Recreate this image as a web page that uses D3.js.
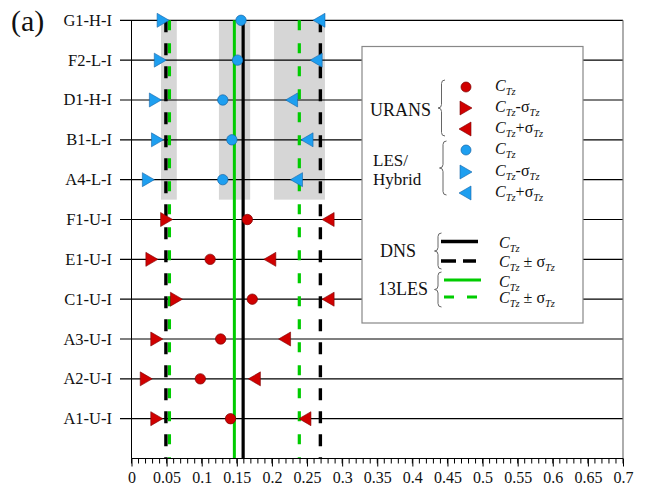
<!DOCTYPE html>
<html>
<head>
<meta charset="utf-8">
<script src="https://cdn.jsdelivr.net/npm/d3@7"></script>
<style>
  html, body { margin: 0; padding: 0; background: #fff; }
  svg text { font-family: "Liberation Serif", "Times New Roman", serif; fill: #111; }
</style>
</head>
<body>
<svg id="chart" width="647" height="496"></svg>
<script>
// Cases, top to bottom
const cases = ["G1-H-I", "F2-L-I", "D1-H-I", "B1-L-I", "A4-L-I",
               "F1-U-I", "E1-U-I", "C1-U-I", "A3-U-I", "A2-U-I", "A1-U-I"];
// Model family of each case: LES/Hybrid or URANS
const family = ["LES", "LES", "LES", "LES", "LES",
                "URANS", "URANS", "URANS", "URANS", "URANS", "URANS"];
// Mean C_Tz and the C_Tz - sigma / C_Tz + sigma bounds for each case
const ctzMean  = [0.156, 0.151, 0.130, 0.143, 0.130, 0.165, 0.112, 0.172, 0.127, 0.098, 0.141];
const ctzLower = [0.045, 0.041, 0.034, 0.037, 0.024, 0.050, 0.029, 0.064, 0.036, 0.021, 0.036];
const ctzUpper = [0.267, 0.263, 0.228, 0.250, 0.235, 0.280, 0.197, 0.280, 0.218, 0.175, 0.247];
// Reference statistics
const dnsMean = 0.159, dnsSigma = 0.110;
const les13Mean = 0.1465, les13Sigma = 0.0925;
// Shaded ranges in the LES/Hybrid block
const bandLo = [0.042, 0.1245, 0.203];
const bandHi = [0.0645, 0.169, 0.2755];
const bandRows = ["G1-H-I", "A4-L-I"];
// Axis ticks
const majorTicks = [0, 0.05, 0.1, 0.15, 0.2, 0.25, 0.3, 0.35, 0.4, 0.45, 0.5, 0.55, 0.6, 0.65, 0.7];
const minorTicks = d3.range(0, 71).map(i => i / 100);

const RED = "#d00000", RED_EDGE = "#7a0000";
const BLUE = "#1e9ff0", BLUE_EDGE = "#1565a8";
const GREEN = "#00cc00";

const svg = d3.select("#chart");
const x = d3.scaleLinear().domain([0, 0.7]).range([131.5, 623]);
const y = d3.scalePoint().domain(cases).range([20.3, 418.7]);
const yTop = y(cases[0]);
const yBottom = 458.5;

// "(a)" panel tag
svg.append("text").attr("x", 11).attr("y", 31).attr("font-size", 30).text("(a)");

// Shaded bands
const bandTop = y(bandRows[0]), bandBot = y(bandRows[1]) + 20;
svg.append("g").selectAll("rect").data(d3.range(bandLo.length)).join("rect")
  .attr("x", i => x(bandLo[i])).attr("width", i => x(bandHi[i]) - x(bandLo[i]))
  .attr("y", bandTop).attr("height", bandBot - bandTop)
  .attr("fill", "#d6d6d6");

// Row lines
svg.append("g").selectAll("line").data(cases).join("line")
  .attr("x1", 120).attr("x2", x(0.7))
  .attr("y1", d => y(d)).attr("y2", d => y(d))
  .attr("stroke", "#000").attr("stroke-width", 1.2);

// Frame: left axis line and grey right border
svg.append("line").attr("x1", x(0)).attr("x2", x(0)).attr("y1", yTop).attr("y2", yBottom)
  .attr("stroke", "#000").attr("stroke-width", 1);
svg.append("line").attr("x1", x(0.7)).attr("x2", x(0.7)).attr("y1", yTop).attr("y2", yBottom)
  .attr("stroke", "#777").attr("stroke-width", 1.2);

// Row labels
svg.append("g").selectAll("text").data(cases).join("text")
  .attr("x", 112).attr("y", d => y(d) + 5.5)
  .attr("text-anchor", "end").attr("font-size", 16.5).text(d => d);

// Reference lines: DNS and 13LES mean and mean +/- sigma
const refLines = [
  { v: les13Mean, color: GREEN, dash: null, w: 3 },
  { v: dnsMean, color: "#000", dash: null, w: 3.2 },
  { v: les13Mean - les13Sigma, color: GREEN, dash: "10,13", w: 3.2 },
  { v: les13Mean + les13Sigma, color: GREEN, dash: "10,13", w: 3.2 },
  { v: dnsMean - dnsSigma, color: "#000", dash: "12,11", w: 3.4 },
  { v: dnsMean + dnsSigma, color: "#000", dash: "12,11", w: 3.4 }
];
svg.append("g").selectAll("line").data(refLines).join("line")
  .attr("x1", d => x(d.v)).attr("x2", d => x(d.v))
  .attr("y1", yTop).attr("y2", yBottom)
  .attr("stroke", d => d.color).attr("stroke-width", d => d.w)
  .attr("stroke-dasharray", d => d.dash);

// Marker shapes
const triRight = "M-6,-7L6,0L-6,7Z";
const triLeft = "M6,-7L-6,0L6,7Z";
const fillOf = i => family[i] === "URANS" ? RED : BLUE;
const edgeOf = i => family[i] === "URANS" ? RED_EDGE : BLUE_EDGE;
const idx = d3.range(cases.length);

const marks = svg.append("g");
marks.selectAll("path.lo").data(idx).join("path").attr("class", "lo")
  .attr("d", triRight)
  .attr("transform", i => `translate(${x(ctzLower[i])},${y(cases[i])})`)
  .attr("fill", fillOf).attr("stroke", edgeOf).attr("stroke-width", 0.6);
marks.selectAll("path.hi").data(idx).join("path").attr("class", "hi")
  .attr("d", triLeft)
  .attr("transform", i => `translate(${x(ctzUpper[i])},${y(cases[i])})`)
  .attr("fill", fillOf).attr("stroke", edgeOf).attr("stroke-width", 0.6);
marks.selectAll("circle").data(idx).join("circle")
  .attr("cx", i => x(ctzMean[i])).attr("cy", i => y(cases[i])).attr("r", 5.2)
  .attr("fill", fillOf).attr("stroke", edgeOf).attr("stroke-width", 0.7);

// Bottom axis
const axisG = svg.append("g").attr("transform", `translate(0,${yBottom})`);
axisG.append("line").attr("x1", x(0)).attr("x2", x(0.7)).attr("stroke", "#000").attr("stroke-width", 1.2);
axisG.selectAll("line.minor").data(minorTicks).join("line").attr("class", "minor")
  .attr("x1", d => x(d)).attr("x2", d => x(d)).attr("y1", 0).attr("y2", 5)
  .attr("stroke", "#000").attr("stroke-width", 1);
const xAxis = d3.axisBottom(x).tickValues(majorTicks).tickSize(8).tickPadding(5)
  .tickFormat(d => d3.format("~g")(d));
const ax = axisG.append("g").call(xAxis);
ax.select(".domain").remove();
ax.selectAll(".tick line").attr("stroke", "#000").attr("stroke-width", 1);
ax.selectAll(".tick text").attr("font-size", 16)
  .attr("font-family", "Liberation Serif, Times New Roman, serif").attr("fill", "#111");

// Legend
const lg = svg.append("g");
lg.append("rect").attr("x", 362).attr("y", 46.5).attr("width", 221).attr("height", 276.5)
  .attr("fill", "#fff").attr("stroke", "#888").attr("stroke-width", 1.2);

function brace(xv, y0, y1) {
  const ym = (y0 + y1) / 2, c = 3.5;
  return `M${xv + c},${y0} Q${xv},${y0} ${xv},${y0 + c} L${xv},${ym - c} Q${xv},${ym} ${xv - c},${ym}` +
         ` Q${xv},${ym} ${xv},${ym + c} L${xv},${y1 - c} Q${xv},${y1} ${xv + c},${y1}`;
}
function ctzLabel(g, xv, yv, suffix) {
  const t = g.append("text").attr("x", xv).attr("y", yv).attr("font-size", 16);
  t.append("tspan").attr("font-style", "italic").text("C");
  t.append("tspan").attr("font-style", "italic").attr("font-size", 10.5).attr("dy", 4).text("Tz");
  if (suffix) {
    t.append("tspan").attr("dy", -4).text(suffix);
    t.append("tspan").attr("font-style", "italic").attr("font-size", 10.5).attr("dy", 4).text("Tz");
  }
}

const legendGroups = [
  { name: ["URANS"], fill: RED, edge: RED_EDGE, ys: [87, 108, 129], brace: [441.5, 80, 136], tx: 370, ty: [115.5] },
  { name: ["LES/", "Hybrid"], fill: BLUE, edge: BLUE_EDGE, ys: [150, 172, 193], brace: [443, 141, 195], tx: 373, ty: [166, 185] }
];
legendGroups.forEach(gp => {
  gp.name.forEach((s, k) => lg.append("text").attr("x", gp.tx).attr("y", gp.ty[k])
    .attr("font-size", gp.name.length > 1 ? 17 : 18).text(s));
  lg.append("path").attr("d", brace(...gp.brace)).attr("fill", "none").attr("stroke", "#666").attr("stroke-width", 1);
  lg.append("circle").attr("cx", 466).attr("cy", gp.ys[0]).attr("r", 5)
    .attr("fill", gp.fill).attr("stroke", gp.edge).attr("stroke-width", 0.7);
  lg.append("path").attr("d", triRight).attr("transform", `translate(466,${gp.ys[1]})`)
    .attr("fill", gp.fill).attr("stroke", gp.edge).attr("stroke-width", 0.6);
  lg.append("path").attr("d", triLeft).attr("transform", `translate(465,${gp.ys[2]})`)
    .attr("fill", gp.fill).attr("stroke", gp.edge).attr("stroke-width", 0.6);
  ctzLabel(lg, 495, gp.ys[0] + 3.5, null);
  ctzLabel(lg, 495, gp.ys[1] + 3.5, "-σ");
  ctzLabel(lg, 495, gp.ys[2] + 3.5, "+σ");
});

const lineGroups = [
  { name: "DNS", color: "#000", tx: 380, ty: 257, ys: [241.5, 261], brace: [438, 233, 269], dash: "15,7", x1: 441, x2: 478, w: 3.6 },
  { name: "13LES", color: GREEN, tx: 378, ty: 295, ys: [280, 297], brace: [438, 272, 307], dash: "10,13", x1: 444, x2: 481, w: 3.2 }
];
lineGroups.forEach(gp => {
  lg.append("text").attr("x", gp.tx).attr("y", gp.ty).attr("font-size", 18).text(gp.name);
  lg.append("path").attr("d", brace(...gp.brace)).attr("fill", "none").attr("stroke", "#666").attr("stroke-width", 1);
  lg.append("line").attr("x1", gp.x1).attr("x2", gp.x2).attr("y1", gp.ys[0]).attr("y2", gp.ys[0])
    .attr("stroke", gp.color).attr("stroke-width", gp.w);
  lg.append("line").attr("x1", gp.x1).attr("x2", gp.x2 - 2).attr("y1", gp.ys[1]).attr("y2", gp.ys[1])
    .attr("stroke", gp.color).attr("stroke-width", gp.w).attr("stroke-dasharray", gp.dash);
  ctzLabel(lg, 499, gp.ys[0] + 6.5, null);
  ctzLabel(lg, 499, gp.ys[1] + 6, " ± σ");
});
</script>
</body>
</html>
